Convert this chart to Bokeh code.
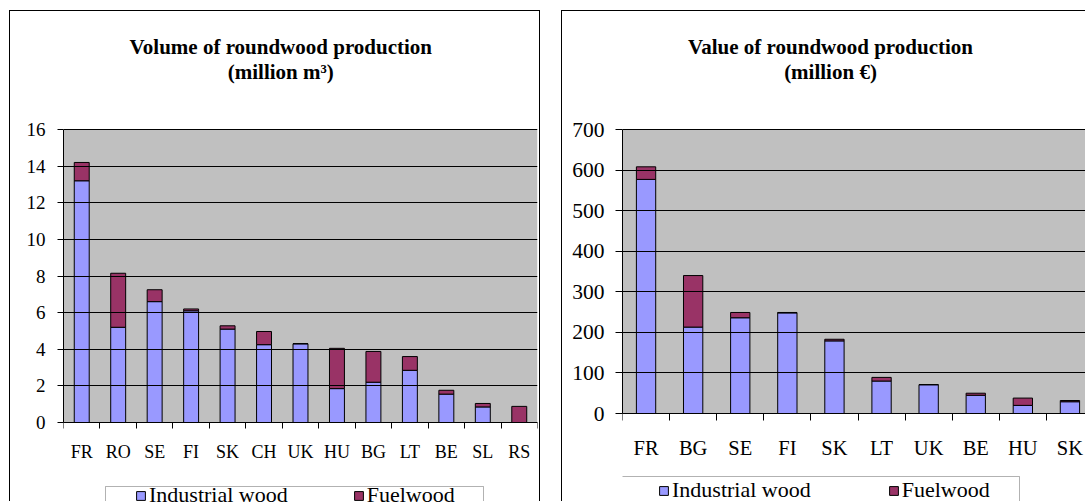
import numpy as np
from bokeh.plotting import figure
from bokeh.models import (Range1d, FixedTicker, CustomJSTickFormatter,
                          Legend, LegendItem, Label, BoxAnnotation, ColumnDataSource, Spacer)
from bokeh.layouts import row, column
from bokeh.embed import file_html
from bokeh.resources import INLINE

# ---------------- data ----------------
vol_countries = ["FR", "RO", "SE", "FI", "SK", "CH", "UK", "HU", "BG", "LT", "BE", "SL", "RS"]
vol_industrial = [13.2, 5.2, 6.6, 6.1, 5.1, 4.25, 4.3, 1.85, 2.2, 2.85, 1.55, 0.85, 0.0]
vol_fuelwood = [1.0, 2.95, 0.65, 0.1, 0.18, 0.72, 0.0, 2.2, 1.68, 0.75, 0.21, 0.19, 0.88]

val_countries = ["FR", "BG", "SE", "FI", "SK", "LT", "UK", "BE", "HU", "SK"]
val_industrial = [577, 213, 236, 248, 179, 80, 71, 45, 20, 29]
val_fuelwood = [31, 127, 13, 1, 4, 9, 0, 5, 18, 3]

series_names = ["Industrial wood", "Fuelwood"]
series_colors = ["#9999FF", "#993366"]

vol_title = ["Volume of roundwood production", "(million m\u00b3)"]
val_title = ["Value of roundwood production", "(million \u20ac)"]

FONT = "Liberation Serif"


def make_panel(countries, industrial, fuelwood, titles, y_max, y_step, g):
    n = len(countries)
    # pixel geometry (page px) of the grey plot area
    fl, fr = g["canvas_x"] + g["mbl"], g["canvas_x"] + g["w"] - g["mbr"]
    px_x = g["px_per_cat"]
    x_end = (fr - fl) / px_x
    px_y = (g["zero_py"] - g["top_py"]) / y_max
    y_hi = y_max + (g["top_py"] - g["canvas_y"]) / px_y
    y_lo = -(g["canvas_y"] + g["h"] - g["zero_py"]) / px_y

    def dx(px):
        return (px - fl) / px_x

    def dy(py):
        return (g["zero_py"] - py) / px_y

    src = ColumnDataSource(dict(x=np.arange(n) + 0.5, industrial=industrial, fuelwood=fuelwood))
    p = figure(width=g["w"], height=g["h"], x_range=Range1d(0, x_end), y_range=Range1d(y_lo, y_hi),
               output_backend="svg", toolbar_location=None,
               min_border_left=g["mbl"], min_border_right=g["mbr"],
               min_border_top=0, min_border_bottom=0,
               styles=g["styles"])
    p.background_fill_color = "white"
    p.border_fill_color = "white"
    p.outline_line_color = None

    # grey plot area
    p.add_layout(BoxAnnotation(left=0, right=x_end, bottom=0, top=y_max, fill_color="#C0C0C0",
                               fill_alpha=1, line_color=None, level="underlay"))

    p.xgrid.visible = False
    p.ygrid.grid_line_color = "black"
    p.ygrid.grid_line_width = 1
    p.ygrid.level = "glyph"

    rs = p.vbar_stack(["industrial", "fuelwood"], x="x", width=0.41, source=src,
                      fill_color=series_colors, line_color="black", line_width=1)

    # x axis at value 0
    xa = p.xaxis[0]
    xa.fixed_location = 0
    xa.ticker = FixedTicker(ticks=list(np.arange(n) + 0.5), minor_ticks=list(range(n + 1)))
    xa.formatter = CustomJSTickFormatter(args=dict(labels=list(countries)),
                                         code="const i = Math.floor(tick); return (i >= 0 && i < labels.length) ? labels[i] : '';")
    xa.major_tick_out = 0
    xa.major_tick_in = 0
    xa.major_tick_line_color = None
    xa.minor_tick_out = g["tick"]
    xa.minor_tick_in = 0
    xa.minor_tick_line_color = "black"
    xa.axis_line_color = "black"
    xa.major_label_standoff = g["xstand"]
    xa.major_label_text_font = FONT
    xa.major_label_text_font_size = g["xfs"]
    xa.major_label_text_color = "black"

    ya = p.yaxis[0]
    ya.bounds = (0, y_max)
    ya.ticker = FixedTicker(ticks=list(range(0, y_max + 1, y_step)), minor_ticks=[])
    ya.major_tick_out = g["tick"]
    ya.major_tick_in = 0
    ya.minor_tick_line_color = None
    ya.axis_line_color = "black"
    ya.major_tick_line_color = "black"
    ya.major_label_standoff = g["ystand"]
    ya.major_label_text_font = FONT
    ya.major_label_text_font_size = g["yfs"]
    ya.major_label_text_color = "black"

    # titles
    for txt, base in zip(titles, g["title_base"]):
        p.add_layout(Label(x=dx(g["title_cx"]), y=dy(base), text=txt, text_align="center",
                           text_baseline="alphabetic", text_font=FONT, text_font_size="21px",
                           text_font_style="bold", text_color="black"))

    # legend box
    lb = g["lbox"]
    p.add_layout(BoxAnnotation(left=dx(lb[0]), right=dx(lb[1]), top=dy(lb[2]), bottom=y_lo - 50,
                               fill_alpha=0, line_color="black", line_width=1))

    leg_h = 25
    vy = (g["canvas_y"] + g["h"]) - (g["leg_top"] + leg_h)
    legend = Legend(items=[LegendItem(label=series_names[i], renderers=[rs[i]]) for i in range(2)],
                    orientation="horizontal", location=(g["glyph_px"] - fl, vy),
                    glyph_width=11, glyph_height=11,
                    label_standoff=3, spacing=g["lspace"], padding=0, margin=0, label_height=leg_h,
                    border_line_color=None, background_fill_alpha=0,
                    label_text_font=FONT, label_text_font_size="22px", label_text_color="black")
    p.add_layout(legend)
    return p


left_geom = dict(canvas_x=10, canvas_y=11, w=531, h=491, mbl=53, mbr=4,
                 px_per_cat=474 / 13, top_py=129, zero_py=422,
                 tick=6, xstand=13, ystand=12, xfs="18px", yfs="19px",
                 styles={"border-top": "1px solid black", "border-left": "1px solid black",
                         "border-right": "1px solid black"},
                 title_cx=280.3, title_base=[46.5, 71.5],
                 lbox=(105, 483, 486), leg_top=483, glyph_px=135, lspace=65)

right_geom = dict(canvas_x=564, canvas_y=11, w=524, h=491, mbl=60, mbr=0,
                  px_per_cat=47.1, top_py=129, zero_py=413,
                  tick=7, xstand=16, ystand=11, xfs="20.5px", yfs="21.5px",
                  styles={"border-top": "1px solid black", "border-left": "1px solid black"},
                  title_cx=832, title_base=[46.5, 71.5],
                  lbox=(622.7, 1021, 476), leg_top=478, glyph_px=660, lspace=77)

p1 = make_panel(vol_countries, vol_industrial, vol_fuelwood, vol_title, 16, 2, left_geom)
p2 = make_panel(val_countries, val_industrial, val_fuelwood, val_title, 700, 100, right_geom)

layout = column(Spacer(width=10, height=10),
                row(Spacer(width=9, height=10), p1, Spacer(width=21, height=10), p2))

open("out.html", "w").write(file_html(layout, INLINE))
